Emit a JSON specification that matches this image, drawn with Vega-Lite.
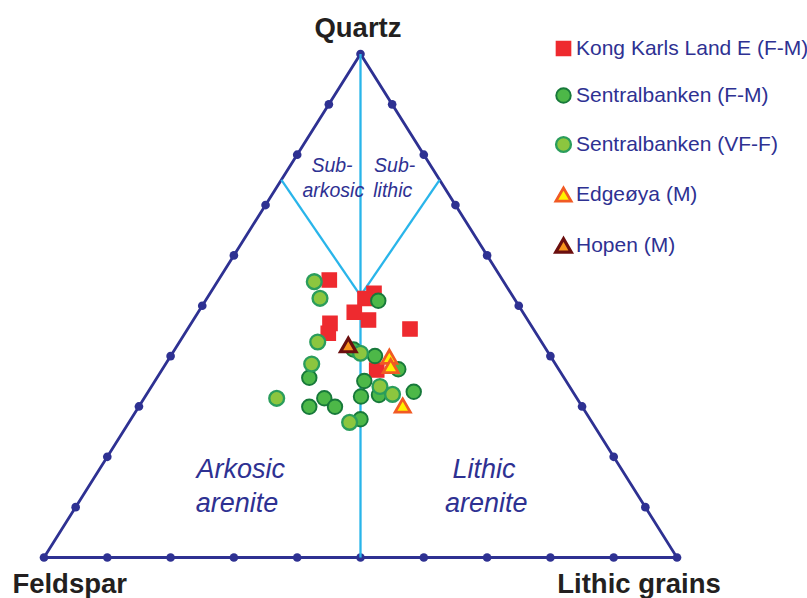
{
  "$schema": "https://vega.github.io/schema/vega-lite/v6.json",
  "width": 807,
  "height": 598,
  "autosize": {"type": "none"},
  "padding": 0,
  "background": "white",
  "config": {"view": {"stroke": null}, "font": "Liberation Sans"},
  "datasets": {
    "edges": [
      {"x": 0, "y": 0, "o": 0},
      {"x": 100, "y": 0, "o": 1},
      {"x": 50, "y": 100, "o": 2},
      {"x": 0, "y": 0, "o": 3}
    ],
    "dividers": [
      {"x": 50, "y": 0, "x2": 50, "y2": 100},
      {"x": 37.5, "y": 75, "x2": 50, "y2": 52},
      {"x": 62.5, "y": 75, "x2": 50, "y2": 52}
    ],
    "ticks": [
      {"x": 0, "y": 0}, {"x": 10, "y": 0}, {"x": 20, "y": 0}, {"x": 30, "y": 0}, {"x": 40, "y": 0}, {"x": 50, "y": 0},
      {"x": 60, "y": 0}, {"x": 70, "y": 0}, {"x": 80, "y": 0}, {"x": 90, "y": 0}, {"x": 100, "y": 0},
      {"x": 5, "y": 10}, {"x": 10, "y": 20}, {"x": 15, "y": 30}, {"x": 20, "y": 40}, {"x": 25, "y": 50},
      {"x": 30, "y": 60}, {"x": 35, "y": 70}, {"x": 40, "y": 80}, {"x": 45, "y": 90}, {"x": 50, "y": 100},
      {"x": 95, "y": 10}, {"x": 90, "y": 20}, {"x": 85, "y": 30}, {"x": 80, "y": 40}, {"x": 75, "y": 50},
      {"x": 70, "y": 60}, {"x": 65, "y": 70}, {"x": 60, "y": 80}, {"x": 55, "y": 90}
    ],
    "samples": [
      {"series": "Kong Karls Land E (F-M)", "x": 45.07, "y": 55.11},
      {"series": "Kong Karls Land E (F-M)", "x": 52.13, "y": 52.47},
      {"series": "Kong Karls Land E (F-M)", "x": 50.71, "y": 51.44},
      {"series": "Kong Karls Land E (F-M)", "x": 49.02, "y": 48.70},
      {"series": "Kong Karls Land E (F-M)", "x": 51.26, "y": 47.17},
      {"series": "Kong Karls Land E (F-M)", "x": 45.18, "y": 46.51},
      {"series": "Kong Karls Land E (F-M)", "x": 44.91, "y": 44.53},
      {"series": "Kong Karls Land E (F-M)", "x": 57.82, "y": 45.38},
      {"series": "Kong Karls Land E (F-M)", "x": 52.56, "y": 37.24},
      {"series": "Sentralbanken (F-M)", "x": 52.81, "y": 51.00},
      {"series": "Sentralbanken (F-M)", "x": 48.89, "y": 41.31},
      {"series": "Sentralbanken (F-M)", "x": 52.29, "y": 40.02},
      {"series": "Sentralbanken (F-M)", "x": 55.97, "y": 37.38},
      {"series": "Sentralbanken (F-M)", "x": 50.60, "y": 35.06},
      {"series": "Sentralbanken (F-M)", "x": 52.92, "y": 32.27},
      {"series": "Sentralbanken (F-M)", "x": 58.41, "y": 32.93},
      {"series": "Sentralbanken (F-M)", "x": 50.08, "y": 31.98},
      {"series": "Sentralbanken (F-M)", "x": 41.91, "y": 35.71},
      {"series": "Sentralbanken (F-M)", "x": 44.28, "y": 31.62},
      {"series": "Sentralbanken (F-M)", "x": 41.91, "y": 29.95},
      {"series": "Sentralbanken (F-M)", "x": 45.97, "y": 29.95},
      {"series": "Sentralbanken (F-M)", "x": 50.00, "y": 27.45},
      {"series": "Sentralbanken (VF-F)", "x": 42.70, "y": 54.78},
      {"series": "Sentralbanken (VF-F)", "x": 43.60, "y": 51.48},
      {"series": "Sentralbanken (VF-F)", "x": 43.24, "y": 42.80},
      {"series": "Sentralbanken (VF-F)", "x": 50.00, "y": 40.56},
      {"series": "Sentralbanken (VF-F)", "x": 42.29, "y": 38.43},
      {"series": "Sentralbanken (VF-F)", "x": 53.08, "y": 33.96},
      {"series": "Sentralbanken (VF-F)", "x": 55.06, "y": 32.41},
      {"series": "Sentralbanken (VF-F)", "x": 36.76, "y": 31.62},
      {"series": "Sentralbanken (VF-F)", "x": 48.28, "y": 26.85},
      {"series": "Edgeøya (M)", "x": 54.55, "y": 39.88},
      {"series": "Edgeøya (M)", "x": 54.77, "y": 38.03},
      {"series": "Edgeøya (M)", "x": 56.67, "y": 30.19},
      {"series": "Hopen (M)", "x": 48.07, "y": 42.20}
    ],
    "vertexLabels": [
      {"label": "Quartz", "x": 49.6, "y": 103.4},
      {"label": "Feldspar", "x": 4.06, "y": -7.0},
      {"label": "Lithic grains", "x": 94.0, "y": -7.0}
    ],
    "subLabels": [
      {"label": "Sub-", "x": 45.5, "y": 76.6},
      {"label": "arkosic", "x": 45.7, "y": 71.5},
      {"label": "Sub-", "x": 55.4, "y": 76.6},
      {"label": "lithic", "x": 55.1, "y": 71.5}
    ],
    "fieldLabels": [
      {"label": "Arkosic", "x": 31.09, "y": 15.73},
      {"label": "arenite", "x": 30.49, "y": 9.10},
      {"label": "Lithic", "x": 69.51, "y": 15.73},
      {"label": "arenite", "x": 69.86, "y": 9.10}
    ]
  },
  "layer": [
    {
      "data": {"name": "edges"},
      "mark": {"type": "line", "color": "#2e3192", "strokeWidth": 2.8},
      "encoding": {
        "x": {"field": "x", "type": "quantitative", "scale": {"domain": [-6.951, 120.537], "nice": false, "zero": false}, "axis": null},
        "y": {"field": "y", "type": "quantitative", "scale": {"domain": [-8.044, 110.725], "nice": false, "zero": false}, "axis": null},
        "order": {"field": "o", "type": "quantitative"}
      }
    },
    {
      "data": {"name": "ticks"},
      "mark": {"type": "point", "filled": true, "color": "#2e3192", "opacity": 1, "size": 75},
      "encoding": {
        "x": {"field": "x", "type": "quantitative"},
        "y": {"field": "y", "type": "quantitative"}
      }
    },
    {
      "data": {"name": "dividers"},
      "mark": {"type": "rule", "color": "#29b5ea", "strokeWidth": 2.3},
      "encoding": {
        "x": {"field": "x", "type": "quantitative"},
        "y": {"field": "y", "type": "quantitative"},
        "x2": {"field": "x2"},
        "y2": {"field": "y2"}
      }
    },
    {
      "data": {"name": "samples"},
      "mark": {"type": "point", "opacity": 1, "fillOpacity": 1, "strokeOpacity": 1},
      "encoding": {
        "x": {"field": "x", "type": "quantitative"},
        "y": {"field": "y", "type": "quantitative"},
        "shape": {"field": "series", "type": "ordinal",
          "scale": {"domain": ["Kong Karls Land E (F-M)", "Sentralbanken (F-M)", "Sentralbanken (VF-F)", "Edgeøya (M)", "Hopen (M)"],
                    "range": ["square", "circle", "circle", "triangle-up", "triangle-up"]}},
        "fill": {"field": "series", "type": "ordinal",
          "scale": {"domain": ["Kong Karls Land E (F-M)", "Sentralbanken (F-M)", "Sentralbanken (VF-F)", "Edgeøya (M)", "Hopen (M)"],
                    "range": ["#ee2a2f", "#4db848", "#8cc63f", "#fff200", "#f7941d"]}},
        "stroke": {"field": "series", "type": "ordinal",
          "scale": {"domain": ["Kong Karls Land E (F-M)", "Sentralbanken (F-M)", "Sentralbanken (VF-F)", "Edgeøya (M)", "Hopen (M)"],
                    "range": ["#ee2a2f", "#17793a", "#2a9d5c", "#f15a24", "#6b0f0f"]}},
        "size": {"field": "series", "type": "ordinal",
          "scale": {"domain": ["Kong Karls Land E (F-M)", "Sentralbanken (F-M)", "Sentralbanken (VF-F)", "Edgeøya (M)", "Hopen (M)"],
                    "range": [200, 240, 135, 215, 215]}},
        "strokeWidth": {"field": "series", "type": "ordinal",
          "scale": {"domain": ["Kong Karls Land E (F-M)", "Sentralbanken (F-M)", "Sentralbanken (VF-F)", "Edgeøya (M)", "Hopen (M)"],
                    "range": [1.5, 3.2, 2.7, 3, 3]},
          "legend": {
            "title": null, "orient": "none", "legendX": 553, "legendY": 38, "padding": 0,
            "rowPadding": 25, "labelFontSize": 21, "labelColor": "#2e3192", "labelFont": "Liberation Sans",
            "labelOffset": 2, "labelLimit": 300
          }}
      }
    },
    {
      "data": {"name": "vertexLabels"},
      "mark": {"type": "text", "fontSize": 27.5, "fontWeight": "bold", "color": "#231f20", "align": "center", "baseline": "alphabetic"},
      "encoding": {
        "x": {"field": "x", "type": "quantitative"},
        "y": {"field": "y", "type": "quantitative"},
        "text": {"field": "label"}
      }
    },
    {
      "data": {"name": "subLabels"},
      "mark": {"type": "text", "fontSize": 19.5, "fontStyle": "italic", "color": "#2e3192", "align": "center", "baseline": "alphabetic"},
      "encoding": {
        "x": {"field": "x", "type": "quantitative"},
        "y": {"field": "y", "type": "quantitative"},
        "text": {"field": "label"}
      }
    },
    {
      "data": {"name": "fieldLabels"},
      "mark": {"type": "text", "fontSize": 27, "fontStyle": "italic", "color": "#2e3192", "align": "center", "baseline": "alphabetic"},
      "encoding": {
        "x": {"field": "x", "type": "quantitative"},
        "y": {"field": "y", "type": "quantitative"},
        "text": {"field": "label"}
      }
    }
  ]
}
